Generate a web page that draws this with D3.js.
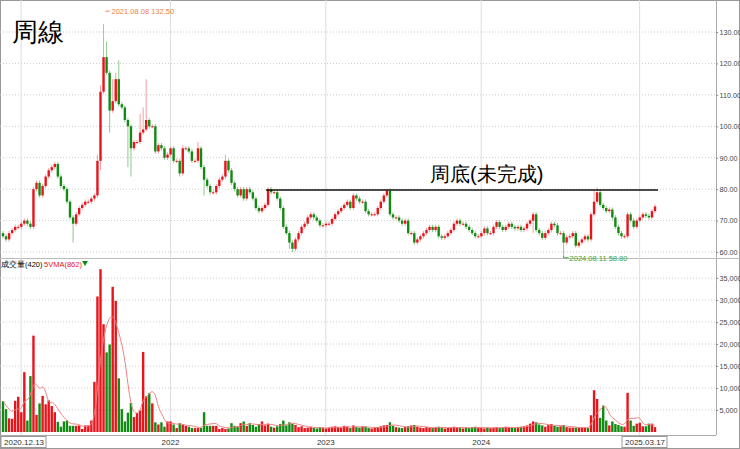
<!DOCTYPE html>
<html><head><meta charset="utf-8">
<script src="https://cdn.jsdelivr.net/npm/d3@7"></script>
<style>body{margin:0;background:#fff}text{font-family:"Liberation Sans",Arial,sans-serif}</style>
</head><body>
<svg id="c" width="740" height="449"></svg>
<script>
// weekly closes
const closes = [
  65,64,66,67,68,68,69,70,69,68,
  80,82,78,81,84,86,87,88,84,81,
  80,76,71,69,72,74,75,76,76,77,
  78,89,111,122,117,105,108,115,107,106,
  102,100,93,95,95,98,99,102,100,100,
  92,94,93,90,91,93,89,89,85,93,
  93,92,89,89,93,87,83,81,79,79,
  81,83,84,89,86,82,80,78,80,77,
  80,79,77,74,73,74,75,80,79,79,
  77,74,68,66,63,61,64,66,68,69,
  71,72,71,70,68.5,68.5,69,69,70.5,72,
  73,74,75,76,74,78,77,76,76,73,
  72,72,72,74,76,78,79.5,72,71,71,
  70,69,70,66,66,63,64,65,66,67,
  68,67,68,65,64.5,65,66,67,69,70,
  69,69,68,67,66,65,65,66,67.5,66,
  66,68,69.5,68,67,68,69,68,67.5,68,
  67,67.5,69,70,72,67,66,64.5,66,67,
  69,68.5,66,66,63,64.7,65,66,62,63,
  64,65,64,72,76,79,75,74,73,73.5,
  71,68,66,65,65,72,70,68,70,71,
  72,71.5,71,73,74.5
];
// weekly volume in thousands
const volumes = [
  7.0,5.2,3.1,3.0,7.1,8.0,4.5,13.6,2.6,12.7,
  21.9,3.9,6.5,8.2,6.3,7.2,5.9,4.5,2.3,1.2,
  2.4,2.6,1.4,1.4,1.4,1.5,0.7,1.5,1.5,2.6,
  11.4,30.8,37,24.5,18.1,19.9,33,29.8,12.2,5.2,
  2.4,4.4,6.6,3.4,4.3,4.9,18.2,8.1,8.8,6.5,
  2.2,1.7,2.2,1.2,2.4,2.4,1.7,0.9,2.0,1.7,
  1.4,1.2,0.9,0.9,0.9,0.9,4.5,1.4,1.4,1.4,
  1.4,0.7,0.9,0.7,0.8,2.0,1.4,1.2,2.0,2.4,
  1.4,2.0,1.6,1.2,1.8,2.4,1.5,1.9,1.2,1.0,
  1.3,1.8,2.6,1.5,2.2,1.9,1.6,1.1,1.3,0.9,
  1.0,1.2,0.9,0.8,1.1,0.9,0.8,1.0,1.2,1.3,
  1.1,1.0,1.4,1.2,0.9,1.5,1.1,1.0,1.3,1.2,
  0.9,0.8,1.0,1.1,1.3,1.5,1.6,2.2,1.4,1.1,
  1.0,0.9,1.2,1.3,1.5,1.6,1.2,1.0,0.9,1.1,
  1.0,0.9,1.1,1.2,1.0,0.8,0.9,1.0,1.2,1.1,
  0.9,0.8,1.0,0.9,1.1,1.2,1.0,0.9,0.8,1.0,
  0.9,1.0,1.1,0.9,1.0,1.2,1.1,1.0,0.9,1.1,
  1.2,1.3,1.5,1.9,2.4,2.2,1.7,1.5,1.2,1.6,
  1.8,1.4,1.2,1.3,1.6,1.1,1.0,1.0,1.0,1.0,
  1.0,1.0,0.9,3.8,9.5,7.5,3.2,6.0,2.6,1.5,
  2.4,1.8,1.6,1.3,1.2,8.9,2.6,1.4,1.9,2.1,
  1.3,1.3,1.9,1.9,1.1
];
const firstOpen = 66;
// long wicks that stand out
const highs = {31: 91, 32: 113, 33: 132.5, 34: 127, 36: 115, 37: 117, 38: 121, 45: 104, 46: 106, 47: 115, 59: 94, 64: 95, 73: 91, 126: 80, 195: 80.5, 194: 79.5};
const lows = {23: 63, 32: 86, 35: 98, 41: 87, 42: 84, 58: 84, 66: 78, 94: 61, 95: 60, 184: 58.8, 174: 66};
const priceTicks = [60,70,80,90,100,110,120,130];
const volTicks = [5000,10000,15000,20000,25000,30000,35000];
const yearLabels = [{i: 52, t: '2022'}, {i: 103, t: '2023'}, {i: 154, t: '2024'}];
const yearLines = [3, 52, 103, 154, 206];
const resistance = {from: 87, to: 215, price: 79.7};

const up = '#e8141b', down = '#138a13', upWick = '#f3a0a2', downWick = '#8fc98f';
const svg = d3.select('#c');

const data = closes.map((c, i) => {
  const o = i === 0 ? firstOpen : closes[i - 1];
  return {i, o, c, h: highs[i] ?? Math.max(o, c) + 0.7, l: lows[i] ?? Math.min(o, c) - 0.7, v: volumes[i] * 1000};
});

const x = d3.scaleLinear().domain([0, closes.length - 1]).range([3, 655]);
const y = d3.scaleLinear().domain([60, 130]).range([252, 32]);
const yv = d3.scaleLinear().domain([0, 35000]).range([432, 278]);

// frame
svg.append('rect').attr('x', 0.5).attr('y', 0.5).attr('width', 739).attr('height', 448).attr('fill', 'none').attr('stroke', '#999');
svg.append('line').attr('x1', 716.5).attr('x2', 716.5).attr('y1', 0).attr('y2', 435).attr('stroke', '#aaa');
svg.append('line').attr('x1', 0).attr('x2', 740).attr('y1', 258.5).attr('y2', 258.5).attr('stroke', '#bbb');
svg.append('line').attr('x1', 0).attr('x2', 716).attr('y1', 435.5).attr('y2', 435.5).attr('stroke', '#aaa');

// grid
const grid = svg.append('g').attr('stroke', '#ccc').attr('stroke-dasharray', '1,2');
priceTicks.forEach(t => grid.append('line').attr('x1', 0).attr('x2', 716).attr('y1', y(t)).attr('y2', y(t)));
volTicks.forEach(t => grid.append('line').attr('x1', 0).attr('x2', 716).attr('y1', yv(t)).attr('y2', yv(t)));
yearLines.forEach(i => svg.append('line').attr('x1', x(i) + 9).attr('x2', x(i) + 9).attr('y1', 0).attr('y2', 435).attr('stroke', '#ddd'));

// right axes
function rightAxis(scale, ticks, fmt) {
  svg.append('g').attr('transform', 'translate(716,0)')
    .call(d3.axisRight(scale).tickValues(ticks).tickFormat(fmt).tickSize(2).tickPadding(1.5))
    .call(g => g.select('.domain').remove())
    .call(g => g.selectAll('text').attr('font-size', 7.2).attr('fill', '#444'))
    .call(g => g.selectAll('line').attr('stroke', '#888'));
}
rightAxis(y, priceTicks, d3.format('.2f'));
rightAxis(yv, volTicks, d3.format(','));

// candles
const cg = svg.append('g');
cg.selectAll('line.w').data(data).enter().append('line')
  .attr('x1', d => x(d.i)).attr('x2', d => x(d.i))
  .attr('y1', d => y(d.h)).attr('y2', d => y(d.l))
  .attr('stroke', d => d.c >= d.o ? upWick : downWick).attr('stroke-width', 1);
cg.selectAll('rect.b').data(data).enter().append('rect')
  .attr('x', d => x(d.i) - 1.2).attr('width', 2.4)
  .attr('y', d => y(Math.max(d.o, d.c)))
  .attr('height', d => Math.max(1, Math.abs(y(d.o) - y(d.c))))
  .attr('fill', d => d.c >= d.o ? up : down);

// volume bars
svg.append('g').selectAll('rect').data(data).enter().append('rect')
  .attr('x', d => x(d.i) - 1.2).attr('width', 2.4)
  .attr('y', d => yv(d.v)).attr('height', d => yv(0) - yv(d.v))
  .attr('fill', d => d.c >= d.o ? up : down);

// 5 week volume average
const ma = data.map((d, i) => ({i, v: d3.mean(data.slice(Math.max(0, i - 4), i + 1), e => e.v)}));
svg.append('path').datum(ma).attr('fill', 'none').attr('stroke', '#f08080').attr('stroke-width', 1)
  .attr('d', d3.line().x(d => x(d.i)).y(d => yv(d.v)).curve(d3.curveBasis));

// resistance line and notes
svg.append('line').attr('x1', x(resistance.from) - 2).attr('x2', x(resistance.to) + 0)
  .attr('y1', y(resistance.price)).attr('y2', y(resistance.price)).attr('stroke', '#111').attr('stroke-width', 1.5);
svg.append('text').attr('x', 430).attr('y', 181).attr('font-size', 20).attr('font-family', 'Noto Sans CJK TC').text('周底(未完成)');
svg.append('text').attr('x', 12).attr('y', 41).attr('font-size', 26).attr('font-family', 'Noto Sans CJK TC').text('周線');

svg.append('line').attr('x1', x(33) + 2).attr('x2', x(33) + 6).attr('y1', y(132.5) - 13).attr('y2', y(132.5) - 13).attr('stroke', '#f08040');
svg.append('text').attr('x', x(33) + 8).attr('y', y(132.5) - 10).attr('font-size', 7.5).attr('fill', '#f08040').text('2021.08.08   132.50');
svg.append('path').attr('d', `M${x(184)},${y(58.8)}V${y(58.8) + 2}h5`).attr('fill', 'none').attr('stroke', '#3aa53a');
svg.append('text').attr('x', x(184) + 6).attr('y', y(58.8) + 5).attr('font-size', 7.5).attr('fill', '#3aa53a').text('2024.08.11   58.80');

// volume legend
svg.append('text').attr('x', 1).attr('y', 267).attr('font-size', 7.5).attr('font-family', 'Noto Sans CJK TC').text('成交量(420)');
svg.append('text').attr('x', 44).attr('y', 267).attr('font-size', 7.5).attr('fill', '#e8141b').text('5VMA(862)');
svg.append('path').attr('d', 'M82,261h6l-3,5z').attr('fill', '#138a13');

// bottom dates
yearLabels.forEach(d => svg.append('text').attr('x', x(d.i) + 9).attr('y', 445).attr('font-size', 8).attr('text-anchor', 'middle').attr('fill', '#333').text(d.t));
[[1, '2020.12.13'], [622, '2025.03.17']].forEach(([px, t]) => {
  svg.append('rect').attr('x', px).attr('y', 436.5).attr('width', 45).attr('height', 11).attr('fill', '#fff').attr('stroke', '#999');
  svg.append('text').attr('x', px + 3).attr('y', 445).attr('font-size', 8).attr('fill', '#333').text(t);
});
</script>
</body></html>
